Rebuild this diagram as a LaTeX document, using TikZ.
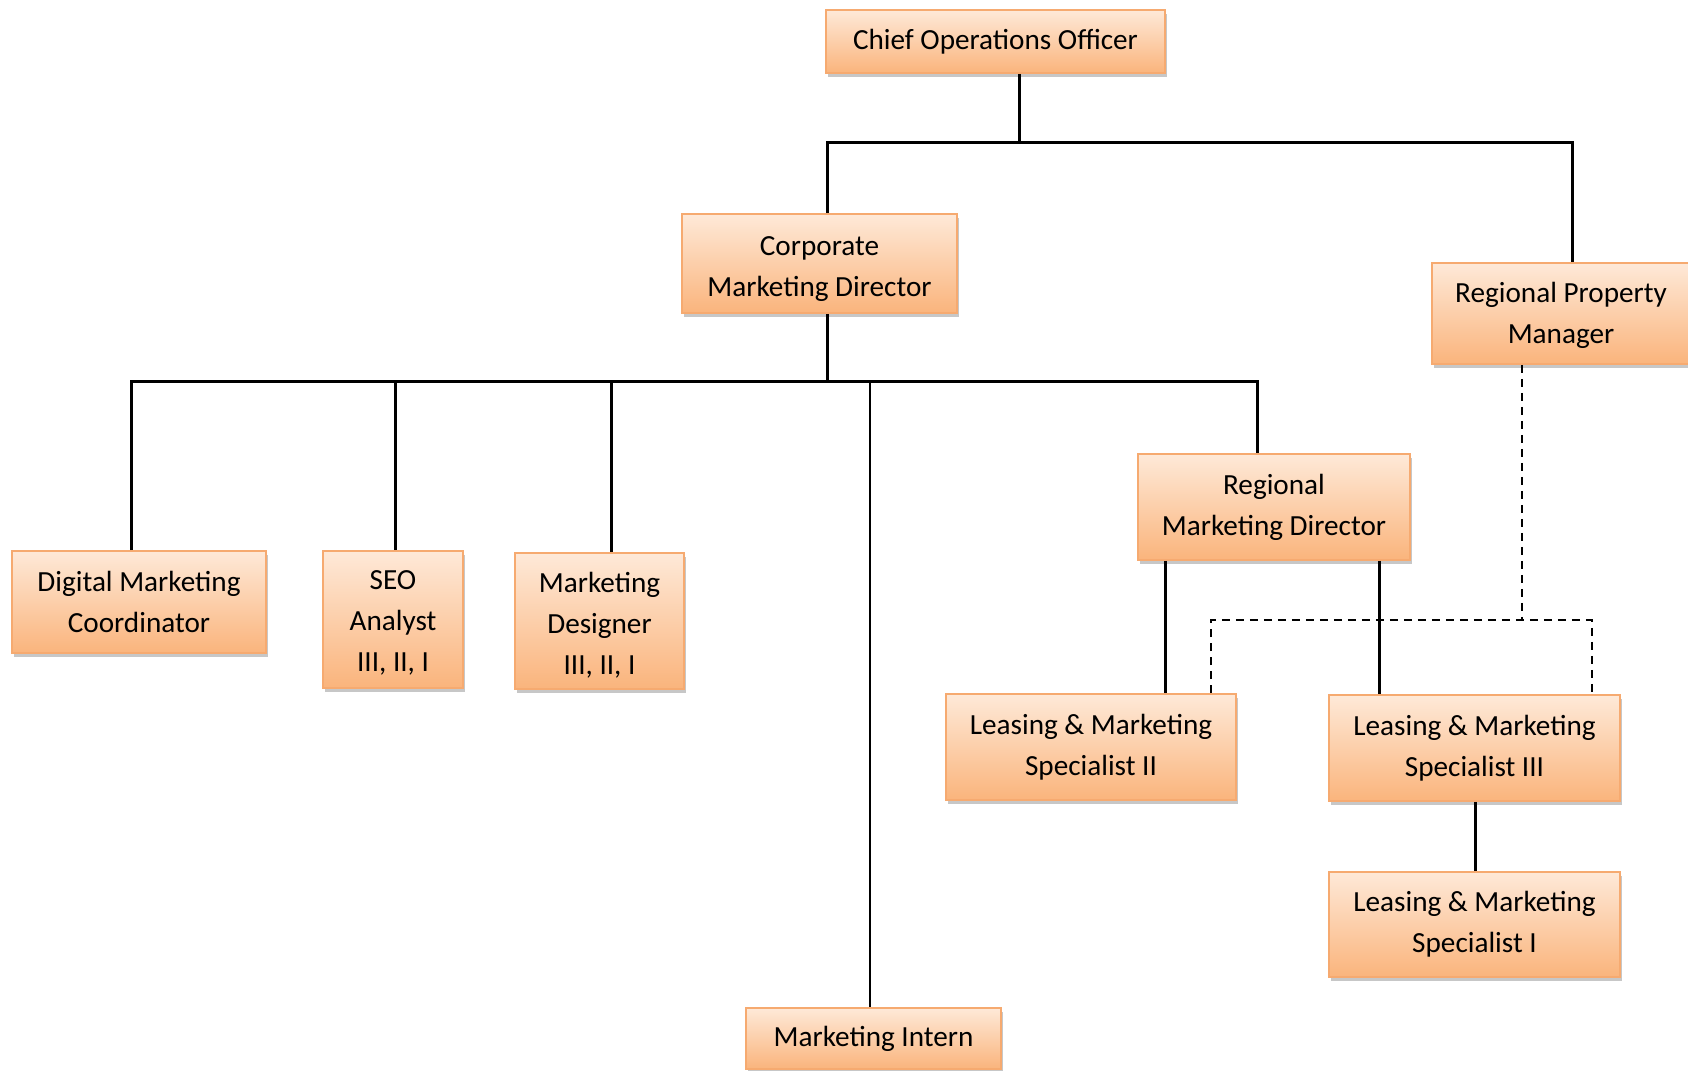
\documentclass[tikz,border=0pt]{standalone}
\usepackage{fontspec}
\setmainfont{Carlito}
\usetikzlibrary{shadows}
\definecolor{boxtop}{RGB}{254,233,216}
\definecolor{boxbot}{RGB}{250,180,124}
\definecolor{boxline}{RGB}{246,170,112}
\newcommand{\lowtext}[2]{\raisebox{#1}[\height][\depth]{\begin{tabular}{@{}c@{}}#2\end{tabular}}}
\tikzset{
  box/.style={rectangle, draw=boxline, line width=0.8pt, top color=boxtop, bottom color=boxbot,
    align=center, inner sep=0pt, font=\fontsize{14.6}{20.5}\selectfont,
    drop shadow={shadow xshift=1pt, shadow yshift=-1.8pt, opacity=0.4, fill=black!55}},
  conn/.style={draw=black, line width=1.5pt},
  dconn/.style={draw=black, line width=0.9pt, dash pattern=on 4pt off 3pt}
}
\begin{document}
\begin{tikzpicture}[x=0.5pt, y=-0.5pt]
\useasboundingbox (0,0) rectangle (1688,1071);
\fill[white] (0,0) rectangle (1688,1071);
% nodes
\node[box, minimum width=169.5pt, minimum height=31.5pt] (coo) at (995.5,41.5) {Chief Operations Officer};
\node[box, minimum width=137.5pt, minimum height=49.5pt] (cmd) at (819.5,263.5) {\lowtext{-2.2pt}{Corporate\\Marketing Director}};
\node[box, minimum width=129pt, minimum height=50.5pt] (rpm) at (1561,313.5) {\lowtext{-0.5pt}{Regional Property\\Manager}};
\node[box, minimum width=127pt, minimum height=51pt] (dmc) at (139,602) {Digital Marketing\\Coordinator};
\node[box, minimum width=70pt, minimum height=68.5pt] (seo) at (393,619.5) {\lowtext{-1.5pt}{SEO\\Analyst\\III, II, I}};
\node[box, minimum width=84.5pt, minimum height=68pt] (md) at (599.5,621) {\lowtext{-2pt}{Marketing\\Designer\\III, II, I}};
\node[box, minimum width=127.5pt, minimum height=30.5pt] (mi) at (873.5,1038.5) {Marketing Intern};
\node[box, minimum width=136pt, minimum height=53pt] (rmd) at (1274,507) {Regional\\Marketing Director};
\node[box, minimum width=145pt, minimum height=53pt] (lms2) at (1091,747) {Leasing \& Marketing\\Specialist II};
\node[box, minimum width=145.5pt, minimum height=53pt] (lms3) at (1474.5,748) {Leasing \& Marketing\\Specialist III};
\node[box, minimum width=145.5pt, minimum height=52.5pt] (lms1) at (1474.5,924.5) {Leasing \& Marketing\\Specialist I};
% coordinates
\coordinate (t1) at (1019,142);
\coordinate (t1L) at (827,142);
\coordinate (t1R) at (1572,142);
\coordinate (t2) at (827,381);
\coordinate (t2L) at (131,381);
\coordinate (t2R) at (1257,381);
\coordinate (t2seo) at (395,381);
\coordinate (t2md) at (611,381);
\coordinate (t2mi) at (870,381);
\coordinate (x1) at (1165,0);
\coordinate (x2) at (1379,0);
\coordinate (x3) at (1475,0);
\coordinate (dM) at (1522,620);
\coordinate (dL) at (1211,620);
\coordinate (dR) at (1592,620);
% solid connectors
\draw[conn] (coo.south -| t1) -- (t1);
\draw[conn] (cmd.north -| t1L) -- (t1L) -- (t1R) -- (rpm.north -| t1R);
\draw[conn] (cmd.south -| t2) -- (t2);
\draw[conn] (dmc.north -| t2L) -- (t2L) -- (t2R) -- (rmd.north -| t2R);
\draw[conn] (t2seo) -- (seo.north -| t2seo);
\draw[conn] (t2md) -- (md.north -| t2md);
\draw[conn, line width=1.1pt] (t2mi) -- (mi.north -| t2mi);
\draw[conn] (rmd.south -| x1) -- (lms2.north -| x1);
\draw[conn] (rmd.south -| x2) -- (lms3.north -| x2);
\draw[conn] (lms3.south -| x3) -- (lms1.north -| x3);
% dashed connectors
\draw[dconn] (rpm.south -| dM) -- (dM);
\draw[dconn] (lms2.north -| dL) -- (dL) -- (dR) -- (lms3.north -| dR);
\end{tikzpicture}
\end{document}
